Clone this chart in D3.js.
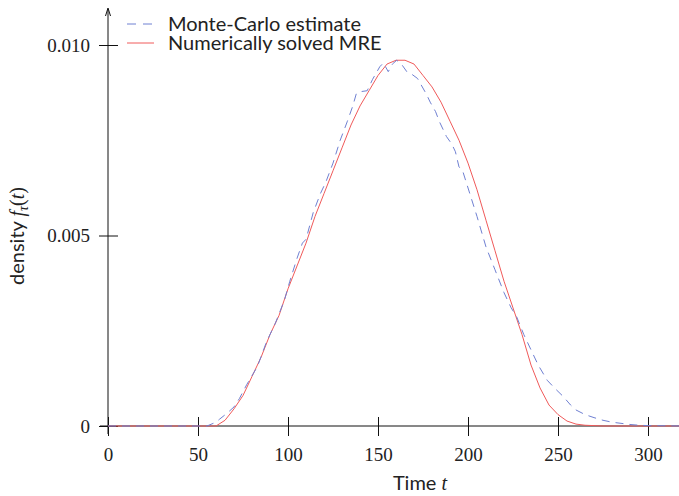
<!DOCTYPE html>
<html>
<head>
<meta charset="utf-8">
<script src="https://cdn.jsdelivr.net/npm/d3@7"></script>
<style>
  body { margin: 0; background: #fff; }
  svg { display: block; }
  .tick text { font-family: "Liberation Serif", serif; font-size: 19px; fill: #222; }
  .sans { font-family: "Lato", "DejaVu Sans", sans-serif; fill: #222; }
</style>
</head>
<body>
<div id="chart"></div>
<script>
// Monte-Carlo estimate (noisy histogram)
const mcTime = [0, 55, 60, 62, 66, 70, 73, 77, 83, 88, 93, 98, 101, 105, 108, 110, 114, 118, 121, 125, 129, 133, 136, 138, 141, 144, 147, 151, 153, 155.7, 158, 160.4, 163, 166, 168, 172, 174, 177, 179, 182, 184, 188, 191, 193, 195, 197, 201, 205, 210, 215, 220, 224, 227, 231, 234, 239, 244, 248, 253, 257, 260, 265, 270, 275, 280, 285, 290, 295, 300, 320];
const mcDensity = [0, 0, 0.0001, 0.00018, 0.00033, 0.0005, 0.00072, 0.00108, 0.00156, 0.0022, 0.0027, 0.0033, 0.0038, 0.0044, 0.0048, 0.0049, 0.0056, 0.0061, 0.0064, 0.0069, 0.0075, 0.008, 0.0084, 0.00873, 0.00878, 0.0088, 0.0091, 0.00943, 0.00953, 0.0093, 0.0095, 0.0096, 0.0095, 0.0093, 0.00926, 0.00912, 0.00895, 0.0087, 0.0085, 0.00825, 0.008, 0.0076, 0.0074, 0.0072, 0.0068, 0.0067, 0.0061, 0.0055, 0.0047, 0.0041, 0.0035, 0.0031, 0.00287, 0.0024, 0.0021, 0.0016, 0.0012, 0.001, 0.00077, 0.00055, 0.00042, 0.0003, 0.00022, 0.00015, 0.0001, 0.00007, 0.00004, 0.00002, 0.00001, 0];

// numerically solved MRE
const mreTime = [0, 55, 60, 65, 70, 75, 80, 85, 90, 95, 100, 105, 110, 115, 120, 125, 130, 135, 140, 145, 150, 155, 160, 165, 170, 175, 180, 185, 190, 195, 200, 205, 210, 215, 220, 225, 230, 235, 240, 245, 250, 255, 260, 265, 270, 275, 320];
const mreDensity = [0, 0, 0, 0.00015, 0.00045, 0.0008, 0.0013, 0.0018, 0.0024, 0.0029, 0.0036, 0.0042, 0.0048, 0.0055, 0.0061, 0.0067, 0.0073, 0.0079, 0.0084, 0.0088, 0.0092, 0.0095, 0.0096, 0.0096, 0.0095, 0.0092, 0.0089, 0.0085, 0.008, 0.0075, 0.0069, 0.0062, 0.0054, 0.0046, 0.0038, 0.0031, 0.0024, 0.0016, 0.001, 0.00055, 0.0003, 0.00013, 0.00005, 0.00002, 0.00001, 0, 0];

const xTicks = [0, 50, 100, 150, 200, 250, 300];
const yTicks = [0, 0.005, 0.01];
const yTickLabels = ['0', '0.005', '0.010'];
const legendLabels = ['Monte-Carlo estimate', 'Numerically solved MRE'];

const width = 679, height = 496;
const blue = '#6f80d2', red = '#f05a5a';

const svg = d3.select('#chart').append('svg')
    .attr('width', width)
    .attr('height', height);

const x = d3.scaleLinear().domain([0, 300]).range([108, 648]);
const y = d3.scaleLinear().domain([0, 0.01]).range([426, 45]);

// axes
const xAxis = svg.append('g')
    .attr('transform', `translate(0,${y(0)})`)
    .call(d3.axisBottom(x).tickValues(xTicks).tickSize(10).tickPadding(12).tickSizeOuter(0));
xAxis.select('.domain').remove();
xAxis.selectAll('.tick line').attr('y1', -9).attr('y2', 10).attr('stroke', '#111');

const yAxis = svg.append('g')
    .attr('transform', `translate(${x(0)},0)`)
    .call(d3.axisLeft(y).tickValues(yTicks).tickFormat((d, i) => yTickLabels[i]).tickSize(9).tickPadding(9).tickSizeOuter(0));
yAxis.select('.domain').remove();
yAxis.selectAll('.tick line').attr('x1', -9).attr('x2', 10).attr('stroke', '#111');

// axis lines with arrow on y
svg.append('line')
    .attr('x1', 100).attr('x2', width)
    .attr('y1', y(0)).attr('y2', y(0))
    .attr('stroke', '#111');
svg.append('line')
    .attr('x1', x(0)).attr('x2', x(0))
    .attr('y1', 434).attr('y2', 9)
    .attr('stroke', '#111');
svg.append('path')
    .attr('d', `M${x(0) - 2.5},${16} L${x(0)},${8} L${x(0) + 2.5},${16}`)
    .attr('fill', 'none')
    .attr('stroke', '#111');

// curves
const line = d3.line().x(d => x(d[0])).y(d => y(d[1]));

svg.append('path')
    .datum(mreTime.map((t, i) => [t, mreDensity[i]]))
    .attr('d', line)
    .attr('fill', 'none')
    .attr('stroke', red)
    .attr('stroke-width', 1);

svg.append('path')
    .datum(mcTime.map((t, i) => [t, mcDensity[i]]))
    .attr('d', line)
    .attr('fill', 'none')
    .attr('stroke', blue)
    .attr('stroke-width', 1)
    .attr('stroke-dasharray', '8,6');

// legend
const legend = svg.append('g');
[blue, red].forEach((c, i) => {
    const ly = 24 + i * 19;
    legend.append('line')
        .attr('x1', 127).attr('x2', 154)
        .attr('y1', ly).attr('y2', ly)
        .attr('stroke', c)
        .attr('stroke-dasharray', i === 0 ? '9,7' : null);
    legend.append('text')
        .attr('class', 'sans')
        .attr('x', 168).attr('y', ly + 7)
        .attr('font-size', 20)
        .text(legendLabels[i]);
});

// axis titles
const xt = svg.append('text')
    .attr('x', 420).attr('y', 490)
    .attr('text-anchor', 'middle')
    .attr('class', 'sans')
    .attr('font-size', 20);
xt.append('tspan').text('Time ');
xt.append('tspan').attr('font-family', 'Liberation Serif, serif').attr('font-style', 'italic').text('t');

const yt = svg.append('text')
    .attr('transform', 'translate(24,236) rotate(-90)')
    .attr('text-anchor', 'middle')
    .attr('class', 'sans')
    .attr('font-size', 20);
yt.append('tspan').text('density ');
yt.append('tspan').attr('font-family', 'Liberation Serif, serif').attr('font-style', 'italic').text('f');
yt.append('tspan').attr('font-family', 'Liberation Serif, serif').attr('font-style', 'italic')
    .attr('font-size', 14).attr('dy', 4).text('τ');
yt.append('tspan').attr('font-family', 'Liberation Serif, serif').attr('dy', -4).text('(');
yt.append('tspan').attr('font-family', 'Liberation Serif, serif').attr('font-style', 'italic').text('t');
yt.append('tspan').attr('font-family', 'Liberation Serif, serif').text(')');
</script>
</body>
</html>
